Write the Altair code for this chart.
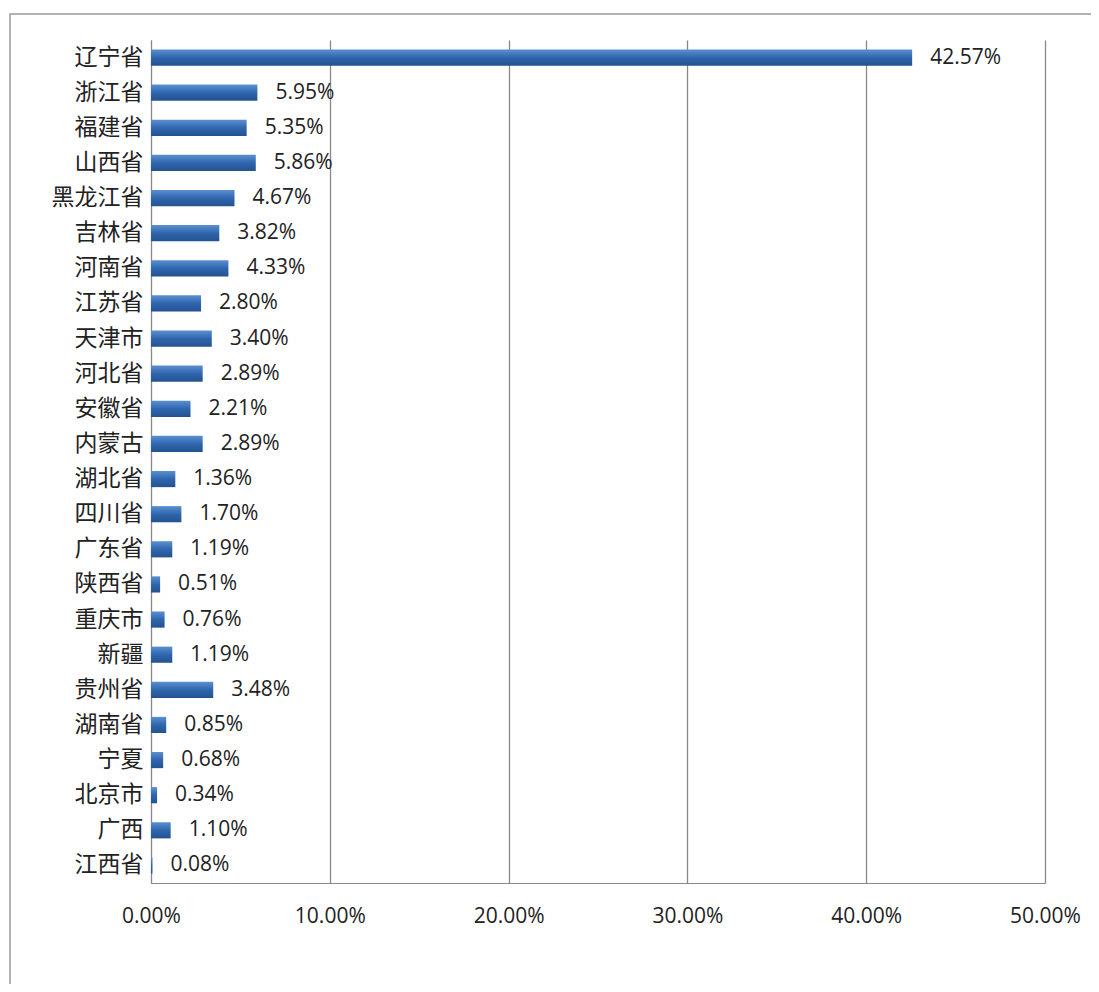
import altair as alt
import pandas as pd

provinces = ["辽宁省", "浙江省", "福建省", "山西省", "黑龙江省", "吉林省", "河南省", "江苏省",
             "天津市", "河北省", "安徽省", "内蒙古", "湖北省", "四川省", "广东省", "陕西省",
             "重庆市", "新疆", "贵州省", "湖南省", "宁夏", "北京市", "广西", "江西省"]
shares = [42.57, 5.95, 5.35, 5.86, 4.67, 3.82, 4.33, 2.80, 3.40, 2.89, 2.21, 2.89,
          1.36, 1.70, 1.19, 0.51, 0.76, 1.19, 3.48, 0.85, 0.68, 0.34, 1.10, 0.08]

df = pd.DataFrame({"province": provinces, "share": shares})
df["label"] = df["share"].map(lambda v: f"{v:.2f}%")

W, H = 894, 843

y = alt.Y("province:N", sort=provinces, title=None,
          scale=alt.Scale(paddingInner=0.54, paddingOuter=0.27),
          axis=alt.Axis(labelFont="Noto Sans CJK SC", labelFontSize=23, labelColor="#222",
                        labelPadding=8, ticks=False, domain=True, domainColor="#888"))
x = alt.X("share:Q", title=None, scale=alt.Scale(domain=[0, 50], nice=False),
          axis=alt.Axis(values=[0, 10, 20, 30, 40, 50], labelExpr="format(datum.value, '.2f') + '%'",
                        labelFont="Open Sans", labelFontSize=21, labelColor="#222", labelPadding=22,
                        labelAlign="center", labelFlush=False,
                        ticks=False, grid=True, gridColor="#888", gridWidth=1.3,
                        domainColor="#888"))

bars = alt.Chart(df).mark_bar(
    color=alt.Gradient(gradient="linear", x1=0, x2=0, y1=0, y2=1,
                       stops=[alt.GradientStop(color="#5b8fd0", offset=0),
                              alt.GradientStop(color="#2f66ae", offset=0.5),
                              alt.GradientStop(color="#24528f", offset=1)])
).encode(x=x, y=y)

text = alt.Chart(df).mark_text(align="left", dx=18, font="Open Sans", fontSize=21, color="#222").encode(
    x="share:Q", y=alt.Y("province:N", sort=provinces), text="label:N")

frame = alt.Chart(df.head(1)).mark_rect(fill=None, stroke="#999", strokeWidth=1.5, clip=False).encode(
    x=alt.value(-141), x2=alt.value(W + 120), y=alt.value(-26), y2=alt.value(H + 130))

chart = (frame + bars + text).properties(
    width=W, height=H,
    autosize=alt.AutoSizeParams(type="none"),
    padding={"left": 143, "top": 32, "right": 46, "bottom": 101},
).configure_view(stroke=None)

chart.save("out.html", embed_options={"renderer": "svg", "actions": False})
